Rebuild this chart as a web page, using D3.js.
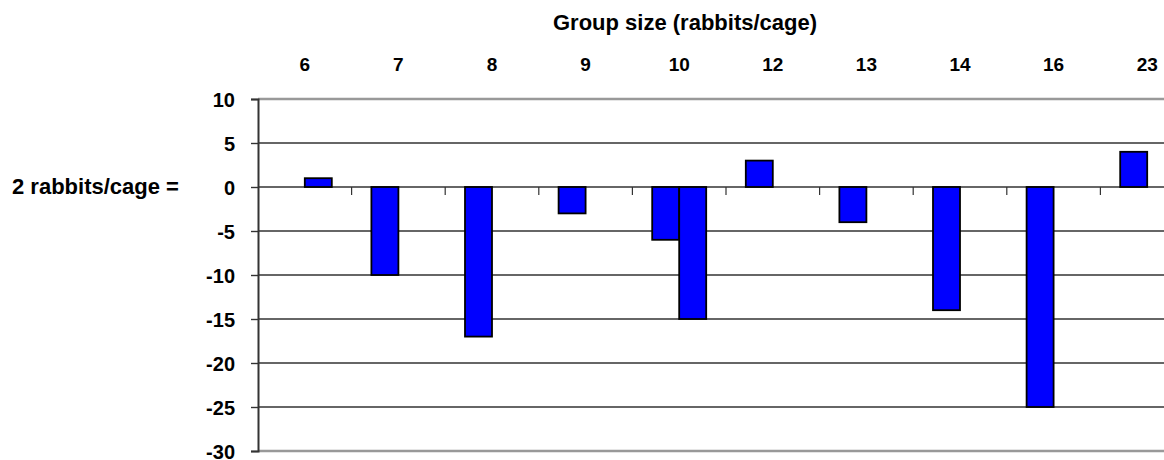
<!DOCTYPE html>
<html><head><meta charset="utf-8">
<script src="https://cdn.jsdelivr.net/npm/d3@7/dist/d3.min.js"></script>
<style>
html,body{margin:0;padding:0;background:#fff;}
svg{display:block;}
text{font-family:"Liberation Sans",Arial,sans-serif;font-weight:bold;fill:#000;}
</style></head>
<body>
<svg id="chart" width="1164" height="460"></svg>
<script>
const categories = ["6","7","8","9","10","12","13","14","16","23"];
const seriesNames = ["A","B"];
const seriesA = [null,-10,-17,-3,-6,3,-4,-14,-25,4];
const seriesB = [1,null,null,null,-15,null,null,null,null,null];
const yTicks = [10,5,0,-5,-10,-15,-20,-25,-30];
const titleText = "Group size (rabbits/cage)";
const leftLabel = "2 rabbits/cage =";

const svg = d3.select("#chart");
const x = d3.scaleBand().domain(categories).range([258, 1194]).padding(0);
const bw = x.bandwidth();
const barW = 27;
const x1 = d3.scaleBand().domain(seriesNames).range([0, bw])
  .paddingInner(0).paddingOuter((bw / barW - 2) / 2);
const y = d3.scaleLinear().domain([-30, 10]).range([451, 99]);

// gridlines
const inner = yTicks.filter(t => t !== 10 && t !== -30);
svg.append("g").selectAll("line").data(inner).join("line")
  .attr("x1", 258).attr("x2", 1194)
  .attr("y1", d => y(d)).attr("y2", d => y(d))
  .attr("stroke", "#333").attr("stroke-width", 1.5);
svg.append("g").selectAll("line").data([10, -30]).join("line")
  .attr("x1", 258).attr("x2", 1194)
  .attr("y1", d => y(d)).attr("y2", d => y(d))
  .attr("stroke", "#999").attr("stroke-width", 2.4);

// category ticks on zero line
svg.append("g").selectAll("line").data(categories.slice(0, -1)).join("line")
  .attr("x1", d => x(d) + bw).attr("x2", d => x(d) + bw)
  .attr("y1", y(0)).attr("y2", y(0) + 8)
  .attr("stroke", "#333").attr("stroke-width", 1.2);

// bars
const rows = [];
categories.forEach((c, i) => {
  if (seriesA[i] !== null) rows.push({c, s: "A", v: seriesA[i]});
  if (seriesB[i] !== null) rows.push({c, s: "B", v: seriesB[i]});
});
svg.append("g").selectAll("rect").data(rows).join("rect")
  .attr("x", d => x(d.c) + x1(d.s))
  .attr("width", x1.bandwidth())
  .attr("y", d => y(Math.max(0, d.v)))
  .attr("height", d => Math.abs(y(d.v) - y(0)))
  .attr("fill", "#0000ff").attr("stroke", "#000").attr("stroke-width", 1.8);

// y axis
const yAxis = svg.append("g").attr("transform", "translate(258,0)")
  .call(d3.axisLeft(y).tickValues(yTicks).tickSize(7).tickPadding(16)
    .tickFormat(d => String(d)));
yAxis.select(".domain").attr("stroke", "#333").attr("stroke-width", 2);
yAxis.selectAll(".tick line").attr("stroke", "#333").attr("stroke-width", 1.4);
yAxis.selectAll(".tick text").attr("font-size", 20).attr("font-family", "Liberation Sans, Arial, sans-serif")
  .attr("font-weight", "bold").attr("fill", "#000").attr("dy", "0.36em");

// top category labels
const xAxis = svg.append("g").attr("transform", "translate(0,71)")
  .call(d3.axisTop(x).tickSize(0).tickPadding(0));
xAxis.select(".domain").remove();
xAxis.selectAll(".tick text").attr("font-size", 19).attr("font-family", "Liberation Sans, Arial, sans-serif")
  .attr("font-weight", "bold").attr("fill", "#000").attr("y", 0).attr("dy", 0);

// title
svg.append("text").attr("x", 685).attr("y", 30).attr("text-anchor", "middle")
  .attr("font-size", 22).text(titleText);

// left label
svg.append("text").attr("x", 12).attr("y", 194).attr("font-size", 22).text(leftLabel);
</script>
</body></html>
